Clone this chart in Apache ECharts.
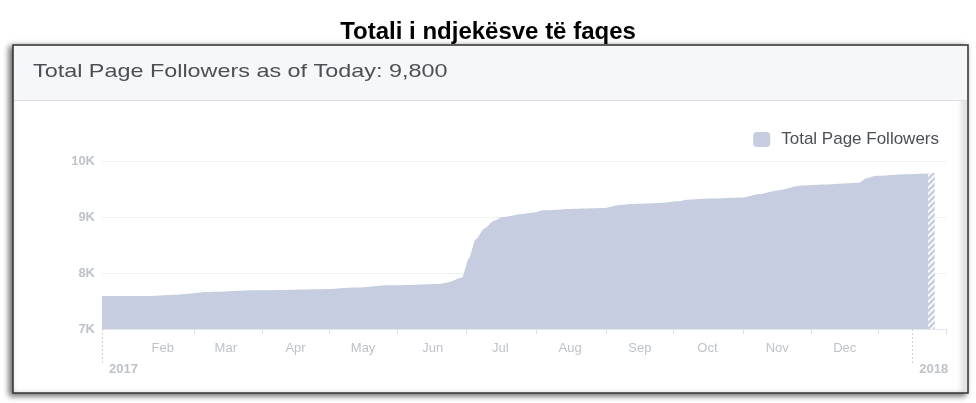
<!DOCTYPE html>
<html>
<head>
<meta charset="utf-8">
<script src="https://cdn.jsdelivr.net/npm/echarts@6/dist/echarts.min.js"></script>
<style>
  html, body { margin: 0; padding: 0; background: #fff; }
  #chart { width: 976px; height: 403px; }
</style>
</head>
<body>
<div id="chart"></div>
<script>
// === Données (jour de l'année 2017, nombre d'abonnés) ===
const days = [4, 26, 36, 51, 73, 102, 117, 132, 154, 157, 164, 167, 170, 174, 178, 182, 190, 196, 200, 212, 227, 234, 242, 252, 260, 264, 274, 289, 296, 304, 314, 322, 340, 344, 348, 359, 371];
const followers = [7590, 7590, 7610, 7660, 7690, 7710, 7740, 7780, 7805, 7825, 7920, 8260, 8600, 8800, 8930, 9000, 9050, 9080, 9120, 9145, 9160, 9215, 9235, 9250, 9280, 9310, 9330, 9350, 9410, 9475, 9560, 9575, 9605, 9695, 9735, 9760, 9775];
// segment partiel (hachuré) en fin de période
const partialDays = [371, 374];
const partialFollowers = [9775, 9786];

const monthNames = ['Feb', 'Mar', 'Apr', 'May', 'Jun', 'Jul', 'Aug', 'Sep', 'Oct', 'Nov', 'Dec'];
const monthStarts = [31, 59, 90, 120, 151, 181, 212, 243, 273, 304, 334];
const tickDays = [45, 75, 105, 135, 166, 197, 228, 258, 289, 319, 349, 379];
const yearNames = ['2017', '2018'];
const yearDays = [4, 364];

const areaColor = '#c6cde0';
const labelColor = '#bec3c9';
const fontFam = '"Liberation Sans", Arial, sans-serif';

// === Motif hachuré ===
const hatch = document.createElement('canvas');
hatch.width = 6;
hatch.height = 6;
const hctx = hatch.getContext('2d');
hctx.fillStyle = areaColor;
hctx.fillRect(0, 0, 6, 6);
hctx.strokeStyle = '#ffffff';
hctx.lineWidth = 1.6;
hctx.beginPath();
hctx.moveTo(0, 6); hctx.lineTo(6, 0);
hctx.moveTo(-1, 1); hctx.lineTo(1, -1);
hctx.moveTo(5, 7); hctx.lineTo(7, 5);
hctx.stroke();

const mainData = days.map((d, i) => [d, followers[i]]);
const partialData = partialDays.map((d, i) => [d, partialFollowers[i]]);

const chart = echarts.init(document.getElementById('chart'));
chart.setOption({
  animation: false,
  textStyle: { fontFamily: fontFam },
  title: {
    text: 'Totali i ndjekësve të faqes',
    left: 'center',
    top: 15,
    textStyle: { fontSize: 24, fontWeight: 'bold', color: '#000', fontFamily: fontFam }
  },
  graphic: [
    {
      type: 'rect', z: -10,
      shape: { x: 13, y: 45, width: 955, height: 348 },
      style: {
        fill: '#fff', stroke: '#333', lineWidth: 1.5,
        shadowBlur: 6, shadowColor: 'rgba(0,0,0,0.6)', shadowOffsetX: -3, shadowOffsetY: 2
      }
    },
    {
      type: 'rect', z: -9,
      shape: { x: 14, y: 46, width: 953, height: 54 },
      style: { fill: '#f6f7f9' }
    },
    {
      type: 'line', z: -9,
      shape: { x1: 14, y1: 100.5, x2: 967, y2: 100.5 },
      style: { stroke: '#dddfe2', lineWidth: 1 }
    },
    {
      type: 'text', z: 5,
      x: 33, y: 62, scaleX: 1.23,
      style: { text: 'Total Page Followers as of Today: 9,800', fill: '#4b4f56', font: '19px ' + fontFam }
    }
  ],
  legend: {
    data: ['Total Page Followers'],
    right: 32,
    top: 126,
    icon: 'roundRect',
    itemWidth: 17,
    itemHeight: 15,
    itemStyle: { color: areaColor },
    textStyle: { fontSize: 17, color: '#4b4f56', padding: [0, 0, 0, 6] }
  },
  grid: { left: 102, right: 30, top: 161, bottom: 74 },
  xAxis: [
    {
      type: 'value', min: 4, max: 379,
      axisLine: { show: true, lineStyle: { color: '#e4e6ea' } },
      axisTick: { show: true, length: 5, customValues: tickDays, lineStyle: { color: '#dddfe2' } },
      axisLabel: {
        customValues: monthStarts,
        formatter: v => monthNames[monthStarts.indexOf(v)] || '',
        color: labelColor, fontSize: 13, margin: 13
      },
      splitLine: { show: false }
    },
    {
      type: 'value', min: 4, max: 379, position: 'bottom',
      axisLine: { show: false },
      axisTick: { show: true, length: 36, customValues: yearDays, lineStyle: { color: '#cfd2d6', type: [2, 2] } },
      axisLabel: {
        customValues: yearDays,
        formatter: v => yearNames[yearDays.indexOf(v)] || '',
        color: labelColor, fontSize: 13, fontWeight: 'bold', margin: 34,
        align: 'left', padding: [0, 0, 0, 7]
      },
      splitLine: { show: false }
    }
  ],
  yAxis: {
    type: 'value', min: 7000, max: 10000, interval: 1000,
    axisLine: { show: false },
    axisTick: { show: false },
    axisLabel: {
      formatter: v => (v / 1000) + 'K',
      color: labelColor, fontSize: 13, fontWeight: 'bold', margin: 7
    },
    splitLine: { lineStyle: { color: '#eef0f2' } }
  },
  series: [
    {
      name: 'Total Page Followers',
      type: 'line',
      data: mainData,
      smooth: 0.25,
      smoothMonotone: 'x',
      symbol: 'none',
      lineStyle: { width: 0 },
      itemStyle: { color: areaColor },
      areaStyle: { color: areaColor, opacity: 1 }
    },
    {
      name: 'partial',
      type: 'line',
      data: partialData,
      symbol: 'none',
      lineStyle: { width: 0 },
      areaStyle: { color: { image: hatch, repeat: 'repeat' }, opacity: 1 }
    }
  ]
});
</script>
</body>
</html>
